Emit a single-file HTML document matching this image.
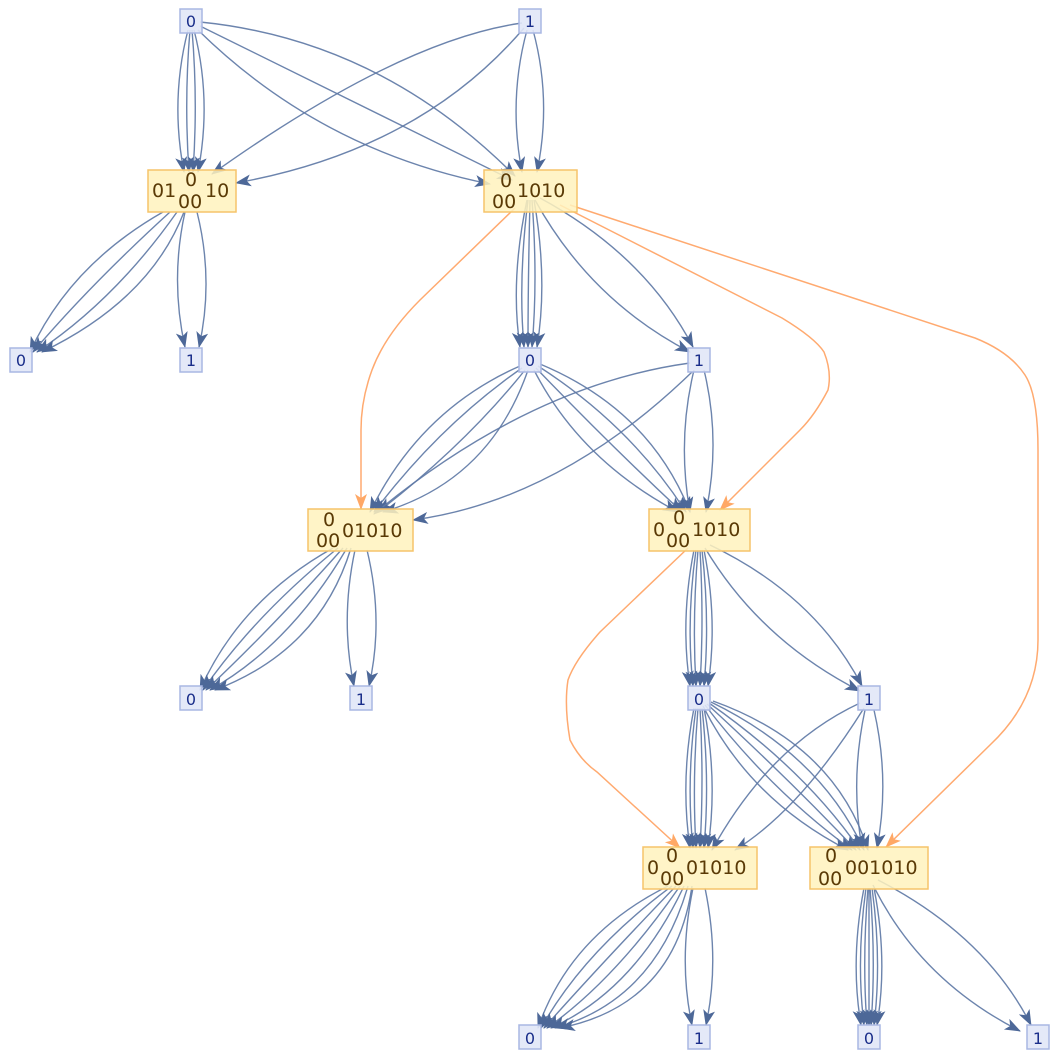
<!DOCTYPE html>
<html><head><meta charset="utf-8"><style>
html,body{margin:0;padding:0;background:#fff;}
svg{display:block;}
text{font-family:"DejaVu Sans","Liberation Sans",sans-serif;}
</style></head><body>
<svg width="1060" height="1058" viewBox="0 0 1060 1058" xmlns="http://www.w3.org/2000/svg">
<defs>
<marker id="a" markerUnits="userSpaceOnUse" markerWidth="18" markerHeight="14" refX="15" refY="6" orient="auto"><path d="M0,0 L16,6 L0,12 L4,6 z" fill="#4d6898"/></marker>
<marker id="o" markerUnits="userSpaceOnUse" markerWidth="18" markerHeight="14" refX="15" refY="6" orient="auto"><path d="M0,0 L16,6 L0,12 L4,6 z" fill="#ffa866"/></marker>
</defs>
<g fill="none" stroke="#ffaa70" stroke-width="1.5" marker-end="url(#o)">
<path d="M515 208 L420 300 Q385 335 372 370 Q361 400 361 430 L361 509"/>
<path d="M560 205 L782 318 Q815 338 824 352 Q832 372 828 390 Q815 415 800 430 L720 510"/>
<path d="M570 205 L975 338 Q1010 352 1025 375 Q1038 395 1038 450 L1038 640 Q1038 700 990 745 L886 847"/>
<path d="M688 548 L600 632 Q575 660 568 680 Q564 705 570 740 Q580 760 597 772 L680 848"/>
</g>
<g fill="none" stroke="#5f7aa6" stroke-width="1.4" stroke-opacity="0.92" marker-end="url(#a)">
<path d="M188 30 Q170 100 184 172"/><path d="M190 30 Q184 100 189 172"/><path d="M192 30 Q198 100 193 172"/><path d="M194 30 Q212 100 198 172"/>
<path d="M200 22 Q380 40 515 176"/><path d="M200 26 L512 180"/><path d="M198 30 Q320 150 490 184"/>
<path d="M527 30 Q508 100 522 172"/><path d="M533 30 Q552 100 537 172"/>
<path d="M522 23 Q400 40 212 174"/><path d="M524 28 Q420 150 236 183"/>
<path d="M163 212 Q70 265 30 352"/><path d="M170 212 Q90 285 33 352"/><path d="M177 212 Q115 300 37 352"/><path d="M184 212 Q150 300 42 352"/>
<path d="M185 212 Q170 280 185 347"/><path d="M197 212 Q214 280 199 347"/>
<path d="M527 200 Q510 280 520 347"/><path d="M528 200 Q518 280 524 347"/><path d="M530 200 Q528 280 528 347"/><path d="M532 200 Q538 280 532 347"/><path d="M534 200 Q548 280 537 347"/>
<path d="M535 200 Q590 300 690 352"/><path d="M540 198 Q645 255 693 347"/>
<path d="M520 366 Q420 410 370 512"/><path d="M522 368 Q440 425 374 512"/><path d="M525 370 Q465 445 378 512"/><path d="M528 370 Q490 480 383 512"/>
<path d="M534 370 Q580 460 678 512"/><path d="M536 368 Q610 445 682 512"/><path d="M538 366 Q630 425 686 512"/><path d="M540 364 Q650 410 690 512"/>
<path d="M690 363 Q530 385 374 514"/><path d="M692 372 Q560 500 413 520"/>
<path d="M694 370 Q677 440 690 512"/><path d="M704 370 Q721 440 706 512"/>
<path d="M333 548 Q240 600 200 690"/><path d="M338 548 Q255 615 203 690"/><path d="M343 548 Q270 630 206 690"/><path d="M347 548 Q290 645 210 690"/><path d="M351 548 Q320 650 215 690"/>
<path d="M355 550 Q340 620 354 686"/><path d="M367 550 Q384 620 369 686"/>
<path d="M694 550 Q680 620 690 686"/><path d="M696 550 Q686 620 693 686"/><path d="M698 550 Q692 620 696 686"/><path d="M700 550 Q704 620 700 686"/><path d="M702 550 Q710 620 704 686"/><path d="M704 550 Q718 620 708 686"/>
<path d="M705 548 Q760 640 860 691"/><path d="M710 545 Q815 595 862 686"/>
<path d="M694 708 Q680 780 690 848"/><path d="M696 708 Q686 780 693 848"/><path d="M698 708 Q692 780 696 848"/><path d="M700 708 Q704 780 700 848"/><path d="M702 708 Q710 780 704 848"/><path d="M704 708 Q718 780 708 848"/>
<path d="M703 706 Q750 800 848 850"/><path d="M705 705 Q770 790 852 850"/><path d="M707 704 Q790 780 856 850"/><path d="M709 703 Q805 770 860 850"/><path d="M711 702 Q820 755 864 850"/><path d="M713 701 Q835 745 868 850"/>
<path d="M860 703 Q770 745 712 850"/><path d="M864 708 Q800 810 735 850"/>
<path d="M865 710 Q850 780 862 848"/><path d="M874 710 Q890 780 877 848"/>
<path d="M668 886 Q570 935 538 1028"/><path d="M672 886 Q585 950 541 1028"/><path d="M676 886 Q600 965 544 1028"/><path d="M680 886 Q615 980 547 1028"/><path d="M684 886 Q635 990 551 1028"/><path d="M688 886 Q655 1000 555 1028"/><path d="M692 886 Q675 1005 560 1028"/>
<path d="M693 888 Q678 960 692 1025"/><path d="M705 888 Q720 960 706 1025"/>
<path d="M864 888 Q850 960 861 1025"/><path d="M866 888 Q856 960 864 1025"/><path d="M868 888 Q862 960 867 1025"/><path d="M869 888 Q869 960 869 1025"/><path d="M870 888 Q876 960 871 1025"/><path d="M872 888 Q882 960 874 1025"/><path d="M874 888 Q888 960 877 1025"/>
<path d="M873 885 Q920 980 1020 1031"/><path d="M878 880 Q985 935 1031 1025"/>
</g>
<g fill="#fff2bd" fill-opacity="0.85" stroke="#f6c46a" stroke-width="1.5">
<rect x="148" y="170" width="88" height="42"/>
<rect x="484" y="170" width="93" height="42"/>
<rect x="308" y="509" width="105" height="42"/>
<rect x="649" y="509" width="101" height="42"/>
<rect x="643" y="847" width="114" height="42"/>
<rect x="810" y="847" width="118" height="42"/>
</g>
<g fill="#e1e7f7" fill-opacity="0.9" stroke="#a9b7e3" stroke-width="1.5">
<rect x="180" y="9" width="22" height="24"/><rect x="519" y="9" width="22" height="24"/>
<rect x="10" y="348" width="22" height="24"/><rect x="180" y="348" width="22" height="24"/>
<rect x="519" y="348" width="22" height="24"/><rect x="688" y="348" width="22" height="24"/>
<rect x="180" y="686" width="22" height="24"/><rect x="350" y="686" width="22" height="24"/>
<rect x="688" y="686" width="22" height="24"/><rect x="858" y="686" width="22" height="24"/>
<rect x="519" y="1025" width="22" height="24"/><rect x="688" y="1025" width="22" height="24"/>
<rect x="858" y="1025" width="22" height="24"/><rect x="1027" y="1025" width="22" height="24"/>
</g>
<g fill="#1a2e8a" font-size="16" text-anchor="middle">
<text x="191" y="27">0</text><text x="530" y="27">1</text>
<text x="21" y="366">0</text><text x="191" y="366">1</text>
<text x="530" y="366">0</text><text x="699" y="366">1</text>
<text x="191" y="705">0</text><text x="361" y="705">1</text>
<text x="699" y="705">0</text><text x="869" y="705">1</text>
<text x="530" y="1044">0</text><text x="699" y="1044">1</text>
<text x="869" y="1044">0</text><text x="1038" y="1044">1</text>
</g>
<g fill="#5a3a06" font-size="19">
<text x="152" y="197">01</text><text x="185" y="186">0</text><text x="178" y="208">00</text><text x="205" y="197">10</text>
<text x="500" y="187">0</text><text x="492" y="208">00</text><text x="517" y="197">1010</text>
<text x="323" y="526">0</text><text x="316" y="547">00</text><text x="342" y="537">01010</text>
<text x="673" y="524">0</text><text x="653" y="536">0</text><text x="666" y="547">00</text><text x="692" y="536">1010</text>
<text x="666" y="862">0</text><text x="647" y="874">0</text><text x="660" y="885">00</text><text x="686" y="874">01010</text>
<text x="825" y="862">0</text><text x="818" y="885">00</text><text x="845" y="874">001010</text>
</g>
</svg>
</body></html>
